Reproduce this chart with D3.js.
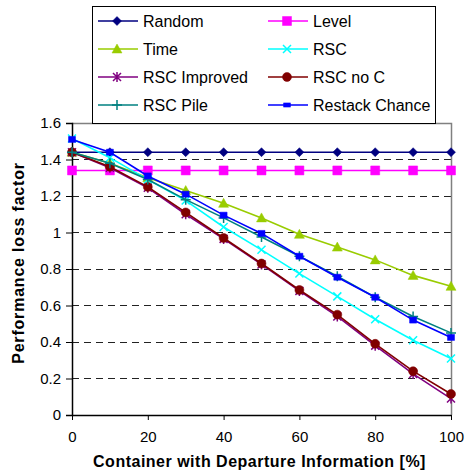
<!DOCTYPE html>
<html>
<head>
<meta charset="utf-8">
<script src="https://cdn.jsdelivr.net/npm/d3@7"></script>
<style>
body { margin: 0; background: #fff; }
text { font-family: "Liberation Sans", Arial, sans-serif; }
</style>
</head>
<body>
<div id="chart"></div>
<script>
// x values: share of containers with departure info
var xValues = [0, 10, 20, 30, 40, 50, 60, 70, 80, 90, 100]

var random = [1.44, 1.44, 1.44, 1.44, 1.44, 1.44, 1.44, 1.44, 1.44, 1.44, 1.44]
var level = [1.34, 1.34, 1.34, 1.34, 1.34, 1.34, 1.34, 1.34, 1.34, 1.34, 1.34]
var time = [1.44, 1.38, 1.30, 1.23, 1.16, 1.08, 0.99, 0.92, 0.85, 0.765, 0.705]
var rsc = [1.515, 1.41, 1.29, 1.175, 1.03, 0.905, 0.775, 0.65, 0.525, 0.41, 0.31]
var rscImproved = [1.44, 1.355, 1.245, 1.10, 0.965, 0.825, 0.68, 0.54, 0.38, 0.225, 0.09]
var rscNoC = [1.44, 1.36, 1.25, 1.11, 0.97, 0.83, 0.685, 0.55, 0.39, 0.24, 0.115]
var rscPile = [1.44, 1.38, 1.29, 1.18, 1.08, 0.975, 0.87, 0.76, 0.645, 0.54, 0.45]
var restackChance = [1.51, 1.44, 1.31, 1.21, 1.095, 0.995, 0.87, 0.755, 0.645, 0.52, 0.425]

var seriesNames = ["Random", "Level", "Time", "RSC", "RSC Improved", "RSC no C", "RSC Pile", "Restack Chance"]
var seriesValues = [random, level, time, rsc, rscImproved, rscNoC, rscPile, restackChance]
var seriesColors = ["#000080", "#ff00ff", "#99cc00", "#00ffff", "#800080", "#800000", "#008080", "#0000ff"]
var seriesMarkers = ["diamond", "square", "triangle", "x", "star", "circle", "plus", "dash"]

var yTicks = [0, 0.2, 0.4, 0.6, 0.8, 1, 1.2, 1.4, 1.6]
var xTicks = [0, 20, 40, 60, 80, 100]

var W = 466, H = 472
var margin = {top: 123, right: 15, bottom: 57, left: 72}
var width = W - margin.left - margin.right,
    height = H - margin.top - margin.bottom

var x = d3.scaleLinear().domain([0, 100]).range([0, width])
var y = d3.scaleLinear().domain([0, 1.6]).range([height, 0])

var svg = d3.select("#chart").append("svg")
    .attr("width", W)
    .attr("height", H)

var g = svg.append("g")
    .attr("transform", "translate(" + margin.left + "," + margin.top + ")")

// dashed gridlines
g.selectAll(".grid")
    .data(yTicks.filter(function(d) { return d > 0 && d < 1.6 }))
    .enter().append("line")
    .attr("x1", 0).attr("x2", width)
    .attr("y1", function(d) { return y(d) }).attr("y2", function(d) { return y(d) })
    .attr("stroke", "#222")
    .attr("stroke-dasharray", "7,5")
    .attr("shape-rendering", "crispEdges")

// gray border top / right
g.append("path")
    .attr("d", "M0,0.5H" + (width + 0.5) + "V" + height)
    .attr("fill", "none")
    .attr("stroke", "#808080")
    .attr("stroke-width", 1.5)

// Y axis
var yAxis = g.append("g")
    .call(d3.axisLeft(y).tickValues(yTicks).tickSize(6).tickPadding(5)
        .tickFormat(function(d) { return d3.format("")(d) }))
yAxis.select(".domain").attr("stroke", "#000").attr("stroke-width", 1.5)
yAxis.selectAll(".tick line").attr("stroke", "#000")
yAxis.selectAll("text").attr("font-size", 15).attr("fill", "#000")
    .style("font-family", "Liberation Sans, Arial, sans-serif")

// X axis
var xAxis = g.append("g")
    .attr("transform", "translate(0," + height + ")")
    .call(d3.axisBottom(x).tickValues(xTicks).tickSize(5).tickSizeOuter(0).tickPadding(11))
xAxis.select(".domain").attr("stroke", "#000").attr("stroke-width", 1.5)
xAxis.selectAll(".tick line").attr("stroke", "#000")
xAxis.selectAll("text").attr("font-size", 15).attr("fill", "#000")
    .style("font-family", "Liberation Sans, Arial, sans-serif")

// axis titles
svg.append("text")
    .attr("x", margin.left + width / 2 - 2)
    .attr("y", 467)
    .attr("text-anchor", "middle")
    .attr("font-size", 16)
    .attr("font-weight", "bold")
    .attr("letter-spacing", 0.5)
    .text("Container with Departure Information [%]")

svg.append("text")
    .attr("transform", "translate(24," + (margin.top + height / 2 - 6) + ") rotate(-90)")
    .attr("text-anchor", "middle")
    .attr("font-size", 16)
    .attr("font-weight", "bold")
    .attr("letter-spacing", 0.8)
    .text("Performance loss factor")

function markerPath(type) {
    if (type == "diamond") return "M0,-4.5L4.5,0L0,4.5L-4.5,0Z"
    if (type == "square") return "M-4.5,-4.5h9v9h-9Z"
    if (type == "triangle") return "M0,-5L5,4L-5,4Z"
    if (type == "x") return "M-4,-4L4,4M-4,4L4,-4"
    if (type == "star") return "M-4,-4L4,4M-4,4L4,-4M0,-5V5"
    if (type == "circle") return "M4.5,0A4.5,4.5 0 1,1 -4.5,0A4.5,4.5 0 1,1 4.5,0Z"
    if (type == "plus") return "M-5,0H5M0,-5V5"
    if (type == "dash") return "M-3.5,-3h7v6h-7Z"
}
function isStroked(type) {
    return type == "x" || type == "star" || type == "plus"
}

var line = d3.line()
    .x(function(d, i) { return x(xValues[i]) })
    .y(function(d) { return y(d) })

seriesValues.forEach(function(vals, k) {
    var c = seriesColors[k], m = seriesMarkers[k]
    g.append("path")
        .datum(vals)
        .attr("d", line)
        .attr("fill", "none")
        .attr("stroke", c)
        .attr("stroke-width", 1.6)
    g.selectAll(".mk" + k)
        .data(vals)
        .enter().append("path")
        .attr("transform", function(d, i) { return "translate(" + x(xValues[i]) + "," + y(d) + ")" })
        .attr("d", markerPath(m))
        .attr("fill", isStroked(m) ? "none" : c)
        .attr("stroke", c)
        .attr("stroke-width", isStroked(m) ? 1.5 : 0.5)
})

// legend
var legend = svg.append("g")
legend.append("rect")
    .attr("x", 92.5).attr("y", 6.5)
    .attr("width", 343).attr("height", 117)
    .attr("fill", "#fff").attr("stroke", "#000")

seriesNames.forEach(function(name, k) {
    var col = k % 2, row = Math.floor(k / 2)
    var lx = col == 0 ? 98 : 268
    var ly = 21 + row * 28
    var c = seriesColors[k], m = seriesMarkers[k]
    legend.append("line")
        .attr("x1", lx).attr("x2", lx + 40)
        .attr("y1", ly).attr("y2", ly)
        .attr("stroke", c).attr("stroke-width", 1.6)
    legend.append("path")
        .attr("transform", "translate(" + (lx + 19) + "," + ly + ")" + (m == "dash" ? " scale(1,0.7)" : ""))
        .attr("d", markerPath(m))
        .attr("fill", isStroked(m) ? "none" : c)
        .attr("stroke", c)
        .attr("stroke-width", isStroked(m) ? 1.5 : 0.5)
    legend.append("text")
        .attr("x", lx + 45).attr("y", ly + 6)
        .attr("font-size", 16)
        .text(name)
})
</script>
</body>
</html>
